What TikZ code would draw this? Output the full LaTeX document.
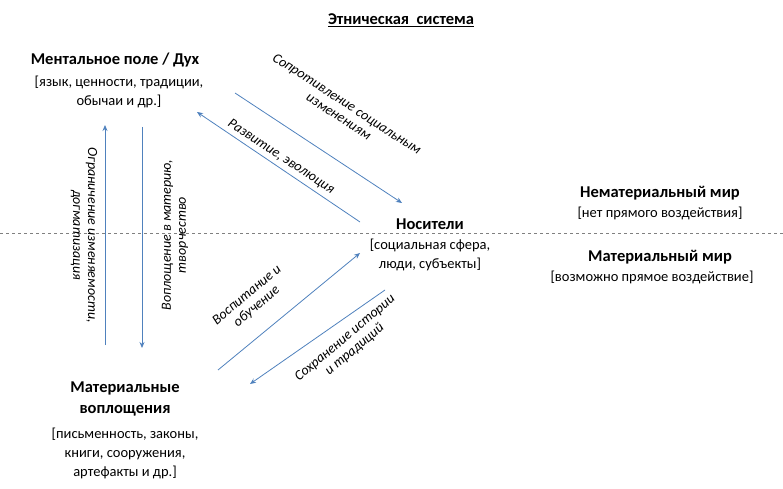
\documentclass[tikz,border=0pt]{standalone}
\usepackage{fontspec}
\setmainfont{Carlito}
\usetikzlibrary{arrows.meta}
\definecolor{arrowblue}{RGB}{79,129,189}

\begin{document}
\begin{tikzpicture}[x=1pt, y=-1pt,
    head/.style={font=\fontsize{16.5}{21}\selectfont\bfseries},
    note/.style={font=\fontsize{14.5}{19}\selectfont, align=center},
    lbl/.style={font=\fontsize{14}{15}\selectfont\itshape, align=center, inner sep=1pt},
    arrow/.style={-{Stealth[length=6pt, width=5pt]}, arrowblue, line width=0.8pt}
]
\useasboundingbox (0,0) rectangle (783,489);

% title and divider
\node[head] (title) at (401,20) {\underline{Этническая\ \ система}};
\draw[gray, dashed] (0,233) -- (783,233);

% three poles
\node[head] (spirit) at (115,60) {Ментальное поле / Дух};
\node[note] (spiritnote) at (119,92) {[язык, ценности, традиции,\\обычаи и др.]};
\node[head] (bearers) at (430,224) {Носители};
\node[note] (bearersnote) at (430,255) {[социальная сфера,\\люди, субъекты]};
\node[head, align=center] (matter) at (125,399) {Материальные\\воплощения};
\node[note] (matternote) at (125,453) {[письменность, законы,\\книги, сооружения,\\артефакты и др.]};

% worlds
\node[head] (immat) at (660,193) {Нематериальный мир};
\node[note] (immatnote) at (660,213) {[нет прямого воздействия]};
\node[head] (mat) at (660,257) {Материальный мир};
\node[note] (matnote) at (652,277) {[возможно прямое воздействие]};

% arrow ends
\coordinate (a1) at (105,345); \coordinate (a2) at (105,125);
\coordinate (b1) at (142,127); \coordinate (b2) at (142,348);
\coordinate (c1) at (235,93);  \coordinate (c2) at (402,203);
\coordinate (d1) at (360,222); \coordinate (d2) at (197,112);
\coordinate (e1) at (218,370); \coordinate (e2) at (360,253);
\coordinate (f1) at (385,290); \coordinate (f2) at (250,384);

\draw[arrow] (a1) -- (a2);
\draw[arrow] (b1) -- (b2);
\draw[arrow] (c1) -- (c2);
\draw[arrow] (d1) -- (d2);
\draw[arrow] (e1) -- (e2);
\draw[arrow] (f1) -- (f2);

% arrow labels
\node[lbl, rotate=-90] (limit) at (84,235) {Ограничение изменяемости,\\догматизация};
\node[lbl, rotate=90] (embody) at (175,235) {Воплощение в материю,\\творчество};
\node[lbl, rotate=-33] (resist) at (343,110) {Сопротивление социальным\\изменениям};
\node[lbl, rotate=-33] (develop) at (281,157) {Развитие, эволюция};
\node[lbl, rotate=40] (educate) at (252,301) {Воспитание и\\обучение};
\node[lbl, rotate=40] (keep) at (350,344) {Сохранение истории\\и традиций};
\end{tikzpicture}
\end{document}
